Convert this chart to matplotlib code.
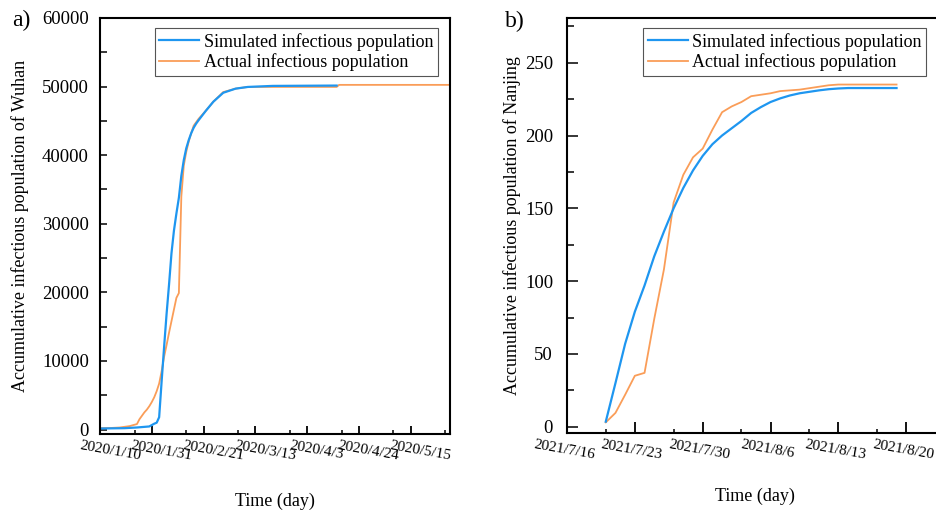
import matplotlib
matplotlib.use('Agg')
import matplotlib.pyplot as plt
from matplotlib.transforms import ScaledTranslation
from matplotlib.ticker import FixedLocator, MultipleLocator

plt.rcParams['font.family'] = ['Liberation Serif', 'DejaVu Serif']

# ---- panel a: Wuhan (x = days since 2020/1/10) ----
wuhan_sim_day = [0, 10, 15, 20, 21, 22, 23, 24, 25, 26, 27, 28, 29, 30, 31, 32, 33, 34,
                 35, 36, 37, 38, 39, 40, 43, 46, 50, 55, 60, 70, 96]
wuhan_sim = [150, 200, 300, 450, 650, 850, 1000, 1800, 7000, 12000, 16800, 21100, 25700,
             29000, 31500, 33800, 37000, 39300, 41000, 42200, 43200, 44000, 44600, 45100,
             46500, 47800, 49100, 49700, 49950, 50100, 50150]

wuhan_act_day = [0, 4, 8, 12, 15, 16, 17, 18, 19, 20, 21, 22, 23, 24, 25, 26, 27, 28, 29,
                 30, 31, 32, 33, 34, 35, 36, 37, 38, 39, 40, 43, 46, 50, 55, 60, 96, 97, 142]
wuhan_act = [200, 220, 300, 500, 800, 1500, 2000, 2500, 2900, 3400, 4000, 4700, 5600, 6700,
             8500, 10600, 12300, 14100, 15800, 17500, 19200, 19900, 34000, 38500, 40500,
             42000, 43200, 44300, 44800, 45300, 46500, 47800, 49200, 49700, 49950, 49950,
             50250, 50250]

wuhan_ticks = [0, 21, 42, 63, 84, 105, 126]
wuhan_labels = ['2020/1/10', '2020/1/31', '2020/2/21', '2020/3/13', '2020/4/3',
                '2020/4/24', '2020/5/15']

# ---- panel b: Nanjing (x = days since 2021/7/16) ----
nanjing_day = list(range(4, 35))
nanjing_sim = [3.5, 30, 57, 79, 97, 117, 134, 150, 164, 176, 186, 194, 200, 205, 210, 215.5,
               219.5, 223, 225.5, 227.5, 229, 230, 231, 231.8, 232.3, 232.6, 232.6, 232.6,
               232.6, 232.6, 232.6]
nanjing_act = [3, 9.5, 22, 35, 37, 74, 108, 154, 173, 185, 191, 204, 216, 220, 223, 227, 228,
               229, 230.5, 231, 231.5, 232.5, 233.5, 234.5, 235, 235, 235, 235, 235, 235, 235]

nanjing_ticks = [0, 7, 14, 21, 28, 35]
nanjing_labels = ['2021/7/16', '2021/7/23', '2021/7/30', '2021/8/6', '2021/8/13', '2021/8/20']

blue = '#1e96f0'
orange = '#fa9d58'

fig = plt.figure(figsize=(9.37, 5.15), dpi=100)
W, H = 937, 515

def px_axes(left, top, right, bottom):
    return fig.add_axes([left / W, 1 - bottom / H, (right - left) / W, (bottom - top) / H])

ax1 = px_axes(100, 18, 450, 434)
ax2 = px_axes(567, 18, 945, 433)

# panel a
ax1.plot(wuhan_act_day, wuhan_act, color=orange, lw=1.3)
ax1.plot(wuhan_sim_day, wuhan_sim, color=blue, lw=1.6)
ax1.set_xlim(0, 142)
ax1.set_ylim(-650, 60000)
ax1.xaxis.set_major_locator(FixedLocator(wuhan_ticks))
ax1.set_xticklabels(wuhan_labels)
ax1.xaxis.set_minor_locator(FixedLocator([14, 35, 56, 77, 98, 119, 140]))
ax1.yaxis.set_major_locator(MultipleLocator(10000))
ax1.yaxis.set_minor_locator(MultipleLocator(5000))
ax1.set_ylabel('Accumulative infectious population of Wuhan', fontsize=13)
ax1.set_xlabel('Time (day)', fontsize=13)

# panel b
ax2.plot(nanjing_day, nanjing_act, color=orange, lw=1.3)
ax2.plot(nanjing_day, nanjing_sim, color=blue, lw=1.6)
ax2.set_xlim(0, 39)
ax2.set_ylim(-4.3, 280.7)
ax2.xaxis.set_major_locator(FixedLocator(nanjing_ticks))
ax2.set_xticklabels(nanjing_labels)
ax2.xaxis.set_minor_locator(FixedLocator([4, 11, 18, 25, 32, 39]))
ax2.yaxis.set_major_locator(MultipleLocator(50))
ax2.yaxis.set_minor_locator(MultipleLocator(25))
ax2.set_ylabel('Accumulative infectious population of Nanjing', fontsize=13)
ax2.set_xlabel('Time (day)', fontsize=13)

for ax in (ax1, ax2):
    for s in ax.spines.values():
        s.set_linewidth(1.5)
    ax.tick_params(axis='x', which='major', direction='in', length=6, width=1.3,
                   labelsize=11, labelrotation=-10, pad=4)
    ax.tick_params(axis='x', which='minor', direction='in', length=3, width=1.1)
    ax.tick_params(axis='y', which='both', direction='in', width=1.1, labelsize=13.5)
    ax.xaxis.label.set_va('center')
    ax.yaxis.label.set_va('center')

ax1.tick_params(axis='y', which='both', length=5, pad=8)
ax2.tick_params(axis='y', which='major', length=8, pad=10)
ax2.tick_params(axis='y', which='minor', length=5)
ax2.tick_params(axis='x', which='major', length=8)

# shift rotated tick labels sideways like the original
for ax, dx in ((ax1, 10), (ax2, -3)):
    off = ScaledTranslation(dx / 100, 0, fig.dpi_scale_trans)
    for lab in ax.get_xticklabels():
        lab.set_transform(lab.get_transform() + off)

ax1.xaxis.set_label_coords(0.5, -0.1627)
ax1.yaxis.set_label_coords(-0.2286, 0.5)
ax2.xaxis.set_label_coords(0.497, -0.1535)
ax2.yaxis.set_label_coords(-0.1455, 0.5)

for ax, x0 in ((ax1, 0.157), (ax2, 0.2018)):
    h = ax.get_lines()
    leg = ax.legend([h[1], h[0]], ['Simulated infectious population', 'Actual infectious population'],
                    loc='upper left', bbox_to_anchor=(x0, 0.975), borderaxespad=0,
                    fontsize=13, frameon=True, fancybox=False, framealpha=1,
                    handlelength=2.2, handletextpad=0.25, labelspacing=0.15, borderpad=0.25)
    leg.get_frame().set_edgecolor('#555555')
    leg.get_frame().set_linewidth(0.8)

fig.text(12 / W, 1 - 20 / H, 'a)', fontsize=17, ha='left', va='center')
fig.text(505 / W, 1 - 21 / H, 'b)', fontsize=17, ha='left', va='center')

fig.savefig('out.png', dpi=100)
